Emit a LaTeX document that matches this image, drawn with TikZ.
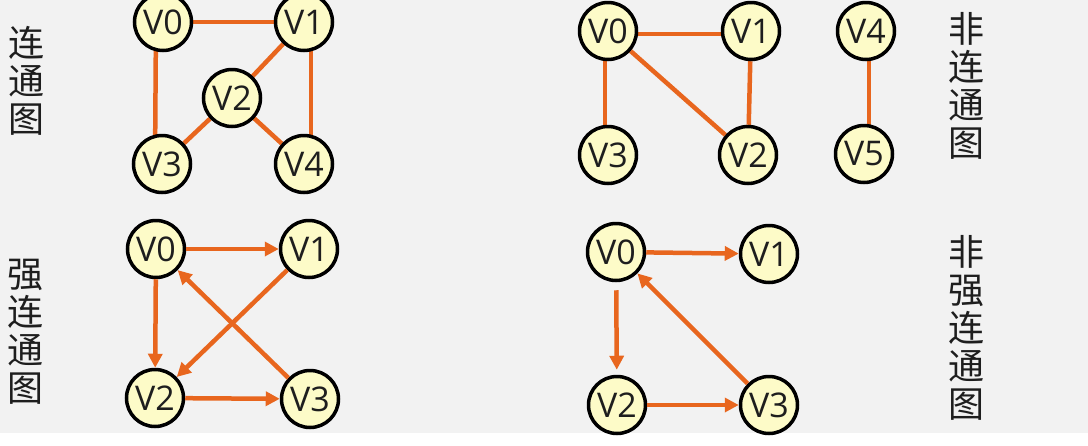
\documentclass[tikz,border=0pt]{standalone}
\usepackage{fontspec}
\newfontfamily\cjk{Noto Sans CJK SC}
\newfontfamily\lab{Open Sans}
\usetikzlibrary{arrows.meta}
\pgfdeclarelayer{bg}
\pgfdeclarelayer{edges}
\pgfsetlayers{bg,edges,main}
\definecolor{bgc}{HTML}{F2F2F2}
\definecolor{edgec}{HTML}{E8661E}
\definecolor{nodef}{HTML}{FDFBC8}
\definecolor{txt}{HTML}{1E1E1E}
\tikzset{
  vx/.style={circle, draw=black, line width=3.5pt, fill=nodef, minimum size=57pt, inner sep=0pt,
    text=txt, font=\lab\fontsize{34}{36}\selectfont},
  ed/.style={draw=edgec, line width=4.5pt},
  arr/.style={ed, -{Triangle[length=14pt,width=14pt]}},
  vlabel/.style={align=center, text=txt, inner sep=0pt, font=\cjk\fontsize{36}{38}\selectfont}
}
\begin{document}
\begin{tikzpicture}[x=1pt,y=-1pt]
\useasboundingbox (0,0) rectangle (1088,445);
\begin{pgfonlayer}{bg}
\fill[bgc] (0,0) rectangle (1088,445);
\fill[white] (0,433) rectangle (1088,445);
\end{pgfonlayer}

% labels
\node[vlabel] (l1) at (27,81) {连\\通\\图};
\node[vlabel] (l2) at (25,332) {强\\连\\通\\图};
\node[vlabel] (l3) at (966,86) {非\\连\\通\\图};
\node[vlabel] (l4) at (966,328) {非\\强\\连\\通\\图};

% top-left connected graph
\node[vx] (a0) at (163,22) {V0};
\node[vx] (a1) at (304,22) {V1};
\node[vx] (a2) at (232,98) {V2};
\node[vx] (a3) at (162,164) {V3};
\node[vx] (a4) at (304,164) {V4};
\begin{pgfonlayer}{edges}
\draw[ed] (a0) -- (a1);
\draw[ed] ([xshift=-7pt]a0.center) -- ([xshift=-7pt]a3.center);
\draw[ed] (a1) -- (a2);
\draw[ed] ([xshift=7pt]a1.center) -- ([xshift=7pt]a4.center);
\draw[ed] (a2) -- (a3);
\draw[ed] (a2) -- (a4);
\end{pgfonlayer}

% top-right non-connected graph
\node[vx] (b0) at (608,31) {V0};
\node[vx] (b1) at (751,31) {V1};
\node[vx] (b2) at (748,155) {V2};
\node[vx] (b3) at (608,155) {V3};
\node[vx] (b4) at (866,31) {V4};
\node[vx] (b5) at (864,154) {V5};
\begin{pgfonlayer}{edges}
\draw[ed] ([yshift=-3pt]b0.center) -- ([yshift=-3pt]b1.center);
\draw[ed] ([xshift=-3pt]b0.center) -- ([xshift=-3pt]b3.center);
\draw[ed] (b0) -- (b2);
\draw[ed] (b1) -- (b2);
\draw[ed] ([xshift=3pt]b4.center) -- ([xshift=5pt]b5.center);
\end{pgfonlayer}

% bottom-left strongly connected digraph
\node[vx] (c0) at (156,249) {V0};
\node[vx] (c1) at (309,249) {V1};
\node[vx] (c2) at (155,398) {V2};
\node[vx] (c3) at (310,399) {V3};
\draw[arr] (c0) -- (c1);
\draw[arr] (c0) -- (c2);
\draw[arr] (c1) -- (c2);
\draw[arr] (c2) -- (c3);
\draw[arr] (c3) -- (c0);

% bottom-right non-strongly connected digraph
\node[vx] (d0) at (616,252) {V0};
\node[vx] (d1) at (769,254) {V1};
\node[vx] (d2) at (617,405) {V2};
\node[vx] (d3) at (769,405) {V3};
\draw[arr] (d0) -- (d1);
\draw[arr, shorten <=8pt, shorten >=5pt] (d0) -- (d2);
\draw[arr] (d2) -- (d3);
\draw[arr] (d3) -- (d0);
\end{tikzpicture}
\end{document}
